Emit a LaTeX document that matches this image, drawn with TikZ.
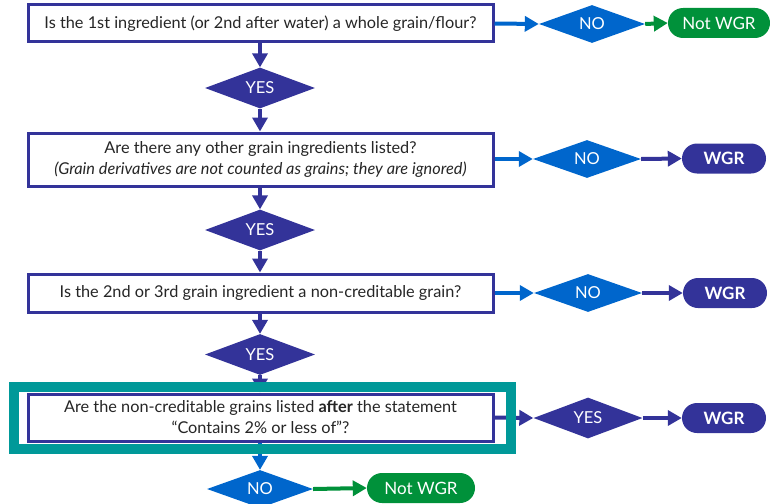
\documentclass[tikz,border=0pt]{standalone}
\usepackage{fontspec}
\setmainfont{Lato}
\usetikzlibrary{shapes.geometric,arrows.meta}
\definecolor{navy}{HTML}{333399}
\definecolor{lblue}{HTML}{0066CC}
\definecolor{wgreen}{HTML}{00913A}
\definecolor{tealhl}{HTML}{009999}
\begin{document}
\begin{tikzpicture}[x=1pt,y=-1pt,
 qbox/.style={draw=navy,line width=3pt,fill=white,minimum width=465pt,align=center,
   font=\fontsize{16.3}{21}\selectfont,text=black!85,inner sep=0pt},
 dia/.style={diamond,inner sep=0pt,text=white,font=\fontsize{16.5}{18}\selectfont},
 yesd/.style={dia,fill=navy},
 nod/.style={dia,fill=lblue},
 pill/.style={rounded corners=15pt,minimum width=84pt,minimum height=30pt,text=white,
   inner sep=0pt,font=\fontsize{17}{19}\selectfont},
 wgr/.style={pill,fill=navy,font=\fontsize{17}{19}\selectfont\bfseries},
 notwgr/.style={pill,fill=wgreen,minimum width=104pt},
 arr/.style={line width=4pt,-{Triangle[length=14pt,width=15pt]}},
]
\useasboundingbox (0,0) rectangle (770,503);

% nodes
\node[qbox,minimum height=37pt] (q1) at (260.5,23.5) {Is the 1st ingredient (or 2nd after water) a whole grain/flour?};
\node[nod,minimum width=106pt,minimum height=36pt] (n1) at (592,24) {NO};
\node[notwgr,minimum width=102pt] (e1) at (719,23) {Not WGR};

\node[yesd,minimum width=110pt,minimum height=38pt] (y1) at (260,88) {YES};

\node[qbox,minimum height=53pt] (q2) at (260.5,159.5) {Are there any other grain ingredients listed?\\\textit{(Grain derivatives are not counted as grains; they are ignored)}};
\node[nod,minimum width=108pt,minimum height=33pt] (n2) at (587,159) {NO};
\node[wgr] (e2) at (724,158.5) {WGR};

\node[yesd,minimum width=110pt,minimum height=37pt] (y2) at (260,230) {YES};

\node[qbox,minimum height=38pt] (q3) at (260.5,293) {Is the 2nd or 3rd grain ingredient a non-creditable grain?};
\node[nod,minimum width=108pt,minimum height=34pt] (n3) at (588,293) {NO};
\node[wgr] (e3) at (725,293) {WGR};

\node[yesd,minimum width=110pt,minimum height=37pt] (y3) at (260,354.5) {YES};

\node[qbox,minimum height=47pt] (q4) at (260.5,417.5) {Are the non-creditable grains listed \textbf{after} the statement\\“Contains 2\% or less of”?};
\node[yesd,minimum width=109pt,minimum height=38pt] (y4) at (588,418) {YES};
\node[wgr] (e4) at (724,418) {WGR};

\node[nod,minimum width=106pt,minimum height=34pt] (n5) at (260,489) {NO};
\node[notwgr,minimum width=108pt] (e5) at (421,488) {Not WGR};

% connectors
\draw[arr,lblue] (q1.east) -- (n1.west);
\draw[arr,wgreen] (n1.east) -- (e1.west);
\draw[arr,navy] (q1.south -| y1.north) -- (y1.north);
\draw[arr,navy] (y1.south) -- (y1.south |- q2.north);

\draw[arr,lblue] (q2.east |- n2.west) -- (n2.west);
\draw[arr,navy] (n2.east) -- (e2.west);
\draw[arr,navy] (q2.south -| y2.north) -- (y2.north);
\draw[arr,navy] (y2.south) -- (y2.south |- q3.north);

\draw[arr,lblue] (q3.east) -- (n3.west);
\draw[arr,navy] (n3.east) -- (e3.west);
\draw[arr,navy] (q3.south -| y3.north) -- (y3.north);
\draw[arr,navy] (y3.south) -- (y3.south |- q4.north);

\draw[arr,navy] (q4.east) -- (y4.west);
\draw[arr,navy] (y4.east) -- (e4.west);
\draw[arr,lblue] (q4.south -| n5.north) -- (n5.north);
\draw[arr,wgreen] (n5.east) -- (e5.west);

% highlight frame
\node[draw=tealhl,line width=10pt,minimum width=497.5pt,minimum height=62pt,inner sep=0pt,outer sep=0pt] (hl) at (262.25,418) {};
\end{tikzpicture}
\end{document}
